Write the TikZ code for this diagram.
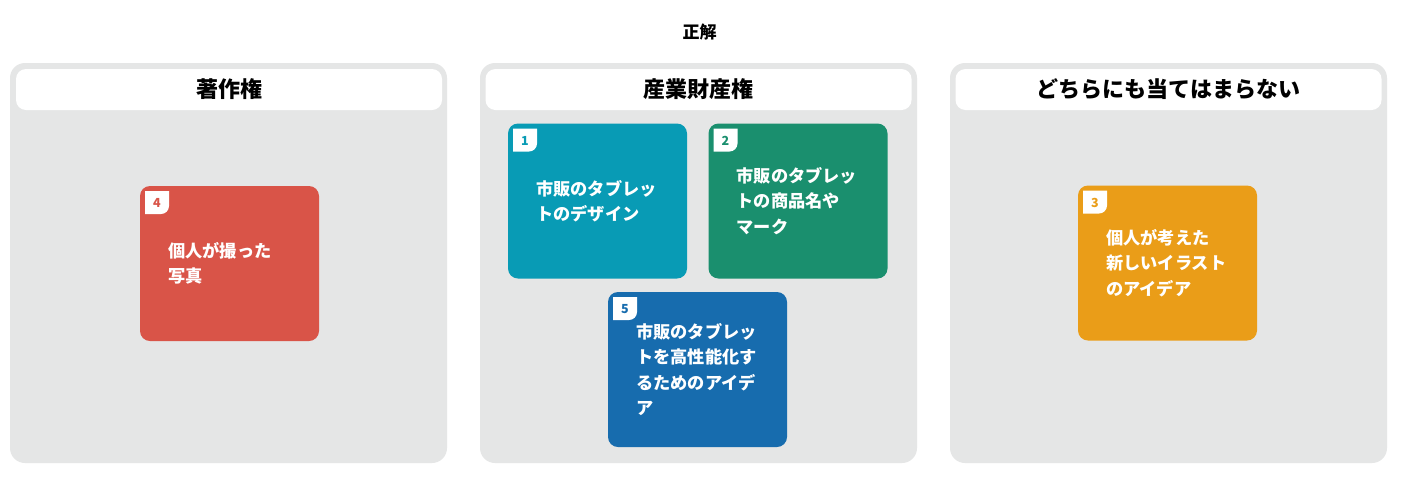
\documentclass[tikz,border=0pt]{standalone}
\usepackage{fontspec}
\setmainfont{Noto Sans CJK JP}
\definecolor{panelgray}{RGB}{229,230,230}
\definecolor{cred}{RGB}{217,84,72}
\definecolor{cteal}{RGB}{8,155,181}
\definecolor{cgreen}{RGB}{26,143,110}
\definecolor{cblue}{RGB}{23,108,174}
\definecolor{corange}{RGB}{234,157,24}
\begin{document}
\begin{tikzpicture}[x=1pt,y=-1pt,
  panel/.style={fill=panelgray, rounded corners=15pt, minimum width=437pt, minimum height=400pt, inner sep=0pt, outer sep=0pt},
  header/.style={fill=white, rounded corners=10pt, minimum width=426pt, minimum height=41pt, inner sep=0pt, outer sep=0pt, font=\fontsize{22}{24}\selectfont\bfseries},
  card/.style={fill=#1, rounded corners=10pt, minimum width=179pt, minimum height=155pt, inner sep=0pt, outer sep=0pt},
  cardtext/.style={text=white, anchor=west, align=left, inner sep=0pt, font=\fontsize{17.2}{25.5}\selectfont\bfseries},
  numtext/.style={text=#1, inner sep=0pt, font=\fontsize{12.5}{14}\selectfont\bfseries},
  titletext/.style={font=\fontsize{17}{20}\selectfont\bfseries, inner sep=0pt}
]
\useasboundingbox (0,0) rectangle (1402,480);
\fill[white] (0,0) rectangle (1402,480);

\newcommand\mkcard[6]{%
  \node[card=#4] (#1) at (#2,#3) {};
  \fill[white] ([xshift=5pt,yshift=-5pt]#1.north west) -- ++(24,0) -- ++(0,15) arc[start angle=0,end angle=90,radius=8] -- ++(-16,0) -- cycle;
  \node[numtext=#4] (#1num) at ([xshift=17pt,yshift=-17pt]#1.north west) {#5};
  \node[cardtext] (#1txt) at ([xshift=28pt]#1.west) {#6};
}

\node[titletext] (title) at (699.5,32) {正解};

\node[panel] (p1) at (228.5,263) {};
\node[panel] (p2) at (698.5,263) {};
\node[panel] (p3) at (1168.5,263) {};
\node[header] (h1) at (229,89.5) {著作権};
\node[header] (h2) at (698.5,89.5) {産業財産権};
\node[header] (h3) at (1168.5,89.5) {どちらにも当てはまらない};

\mkcard{c4}{229.5}{263.5}{cred}{4}{個人が撮った\\写真}
\mkcard{c1}{597.5}{201}{cteal}{1}{市販のタブレッ\\トのデザイン}
\mkcard{c2}{798}{201}{cgreen}{2}{市販のタブレッ\\トの商品名や\\マーク}
\mkcard{c5}{697.5}{369.5}{cblue}{5}{市販のタブレッ\\トを高性能化す\\るためのアイデ\\ア}
\mkcard{c3}{1167.5}{263}{corange}{3}{個人が考えた\\新しいイラスト\\のアイデア}
\end{tikzpicture}
\end{document}
